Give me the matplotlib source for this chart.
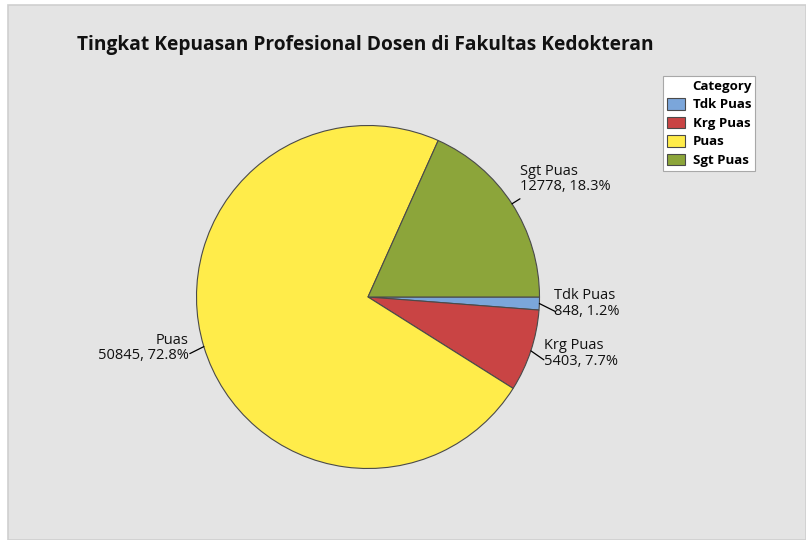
import numpy as np
import matplotlib
matplotlib.use("Agg")
import matplotlib.pyplot as plt
from matplotlib.patches import Rectangle

categories = ["Tdk Puas", "Krg Puas", "Puas", "Sgt Puas"]
values = [848, 5403, 50845, 12778]
colors = ["#7BA6DA", "#C94444", "#FFEC4A", "#8CA53A"]
title = "Tingkat Kepuasan Profesional Dosen di Fakultas Kedokteran"

# label layout offsets in pixels (leader end, text anchor), relative to wedge edge
leader_off = [(16, -8), (13, -9), (-14, -7), (8, 5)]
text_off = [(15, 0), (13, -2.5), (-15, -1.5), (8, 25)]
text_ha = ["left", "left", "right", "left"]

plt.rcParams['font.family'] = ['Open Sans', 'DejaVu Sans']

W, H = 806, 540
fig = plt.figure(figsize=(W / 100, H / 100), dpi=100)
fig.patch.set_facecolor("white")
bg = Rectangle((8 / W, 0), (W - 8) / W, (H - 5) / H,
               transform=fig.transFigure, facecolor="#E4E4E4",
               edgecolor="#CFCFCF", lw=1.2, zorder=-10)
fig.patches.append(bg)

cx, cy, r = 368, 297, 171.5
ax = fig.add_axes([(cx - r) / W, (H - cy - r) / H, 2 * r / W, 2 * r / H])
ax.set_zorder(5)
wedges, _ = ax.pie(values, colors=colors, startangle=0, counterclock=False,
                   radius=1, wedgeprops=dict(edgecolor="#4A4A4A", linewidth=0.8))
ax.set_xlim(-1, 1)
ax.set_ylim(-1, 1)
ax.set_aspect("auto")
ax.axis("off")

total = sum(values)
for i, w in enumerate(wedges):
    th = np.deg2rad((w.theta1 + w.theta2) / 2)
    ex, ey = np.cos(th), np.sin(th)
    ax.annotate("", xy=(ex, ey), xytext=leader_off[i], textcoords="offset pixels",
                arrowprops=dict(arrowstyle="-", shrinkA=0, shrinkB=0, lw=0.9, color="black"),
                annotation_clip=False)
    pct = values[i] / total * 100
    ax.annotate(f"{categories[i]}\n{values[i]}, {pct:.1f}%", xy=(ex, ey),
                xytext=text_off[i], textcoords="offset pixels", ha=text_ha[i],
                va="center", fontsize=10.5, linespacing=1.05, color="#111111",
                annotation_clip=False)

fig.text(77 / W, 1 - 45 / H, title, fontsize=13.8, fontweight="bold",
         ha="left", va="center", color="#111111")

leg = fig.legend(wedges, categories, loc="upper left",
                 bbox_to_anchor=(663 / W, 1 - 76 / H),
                 title="Category", alignment="right",
                 prop=dict(weight="bold", size=9.5),
                 title_fontproperties=dict(weight="bold", size=9.5),
                 frameon=True, fancybox=False, edgecolor="#A8A8A8",
                 framealpha=1, facecolor="white", borderpad=0.3,
                 handlelength=1.35, handleheight=0.95, handletextpad=0.6,
                 labelspacing=0.4, borderaxespad=0)
leg.get_frame().set_linewidth(0.8)
leg.set_zorder(6)

fig.savefig("out.png", dpi=100)
